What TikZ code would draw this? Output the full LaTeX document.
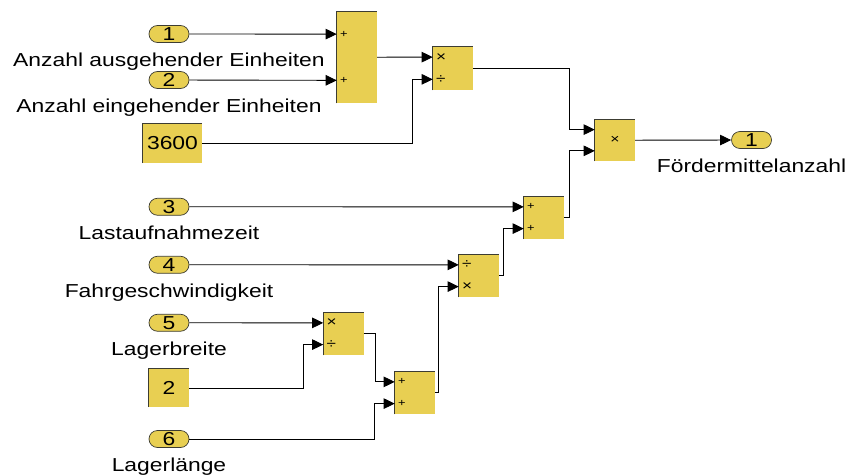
\documentclass[tikz,border=0pt]{standalone}
\usepackage{fontspec}
\setmainfont{Liberation Sans}[FakeStretch=1.22]
\usetikzlibrary{positioning, arrows.meta, calc, shapes.misc}

\definecolor{simyellow}{RGB}{232,207,82}
\definecolor{simedge}{RGB}{60,60,50}

\begin{document}
\begin{tikzpicture}[
    x=0.03cm, y=-0.03cm,
    font=\fontsize{16}{19}\selectfont,
    signal/.style={-{Triangle[length=9.5pt, width=9pt]}, line width=0.75pt},
    inport/.style={rounded rectangle, fill=simyellow, draw=simedge, line width=0.6pt,
        minimum width=1.2cm, minimum height=0.51cm, inner sep=0pt},
    block/.style={rectangle, fill=simyellow, minimum width=1.2cm, inner sep=0pt},
    shade_edge/.style={simedge, line width=0.8pt},
    opsign/.style={anchor=west, inner sep=0pt, font=\fontsize{12}{12}\selectfont},
    plussign/.style={opsign, font=\fontsize{9}{9}\selectfont},
    portname/.style={inner sep=2pt, text height=11.5pt, text depth=3.5pt}
]
\useasboundingbox (0,0) rectangle (846,475);

% Rechenblock: Name, x, Oberkante, Hoehe, Stil der Vorzeichen, oben, unten
\newcommand{\opBlock}[7]{
    \node[block, minimum height=#4*0.03cm, anchor=north] (#1) at (#2, #3) {};
    \draw[shade_edge] (#1.south west) -- (#1.north west) -- (#1.north east);
    \coordinate (#1-a) at ($(#1.north west)!0.25!(#1.south west)$);
    \coordinate (#1-b) at ($(#1.north west)!0.75!(#1.south west)$);
    \node[#5] (#1-sa) at ($(#1-a)+(3,0)$) {#6};
    \node[#5] (#1-sb) at ($(#1-b)+(3,0)$) {#7};
}

% ==========================================
% Bloecke
\opBlock{sum1}{357}{11}{92}{plussign}{+}{+}
\opBlock{prod1}{453}{46}{44}{opsign}{×}{÷}
\opBlock{sum2}{544}{196}{43}{plussign}{+}{+}
\opBlock{prod2}{479}{254}{43}{opsign}{÷}{×}
\opBlock{prod4}{343.5}{312}{43}{opsign}{×}{÷}
\opBlock{sum3}{415}{371}{43}{plussign}{+}{+}

% Endprodukt
\node[block, minimum height=42*0.03cm, anchor=north] (prodF) at (615, 119) {};
\draw[shade_edge] (prodF.south west) -- (prodF.north west) -- (prodF.north east);
\coordinate (prodF-a) at ($(prodF.north west)!0.25!(prodF.south west)$);
\coordinate (prodF-b) at ($(prodF.north west)!0.75!(prodF.south west)$);
\node[font=\fontsize{11}{11}\selectfont, inner sep=0pt] (prodF-s) at (prodF) {×};

% Konstanten
\node[block, minimum width=59*0.03cm, minimum height=39*0.03cm] (c3600) at (172.5, 143.5) {3600};
\draw[shade_edge] (c3600.south west) -- (c3600.north west) -- (c3600.north east);
\node[block, minimum height=38*0.03cm] (c2) at (169, 388) {2};
\draw[shade_edge] (c2.south west) -- (c2.north west) -- (c2.north east);

% ==========================================
% Ein- und Ausgaenge
\node[inport] (in1) at (169, 34) {1};
\node[portname, below=6.5pt of in1] (in1-name) {Anzahl ausgehender Einheiten};
\node[inport] (in2) at (169, 80) {2};
\node[portname, below=6.5pt of in2] (in2-name) {Anzahl eingehender Einheiten};
\node[inport] (in3) at (169, 206.75) {3};
\node[portname, below=6.5pt of in3] (in3-name) {Lastaufnahmezeit};
\node[inport] (in4) at (169, 264.75) {4};
\node[portname, below=6.5pt of in4] (in4-name) {Fahrgeschwindigkeit};
\node[inport] (in5) at (169, 322.75) {5};
\node[portname, below=6.5pt of in5] (in5-name) {Lagerbreite};
\node[inport] (in6) at (169, 439) {6};
\node[portname, below=6.5pt of in6] (in6-name) {Lagerlänge};
\node[inport] (out1) at (751.5, 140) {1};
\node[portname, below=6.5pt of out1] (out1-name) {Fördermittelanzahl};

% ==========================================
% Signale
\draw[signal] (in1) -- (sum1-a);
\draw[signal] (in2) -- (sum1-b);
\draw[signal] (sum1) -- (prod1-a);
\draw[signal] (c3600) -| ($(prod1-b)+(-20,0)$) -- (prod1-b);
\draw[signal] (prod1) -| ($(prodF-a)+(-25,0)$) -- (prodF-a);
\draw[signal] (sum2) -| ($(prodF-b)+(-25,0)$) -- (prodF-b);
\draw[signal] (prodF) -- (out1);
\draw[signal] (in3) -- (sum2-a);
\draw[signal] (in4) -- (prod2-a);
\draw[signal] (prod2) -| ($(sum2-b)+(-20,0)$) -- (sum2-b);
\draw[signal] (in5) -- (prod4-a);
\draw[signal] (c2) -| ($(prod4-b)+(-20,0)$) -- (prod4-b);
\draw[signal] (prod4) -| ($(sum3-a)+(-19,0)$) -- (sum3-a);
\draw[signal] (in6) -| ($(sum3-b)+(-20,0)$) -- (sum3-b);
\draw[signal] (sum3) -| ($(prod2-b)+(-20,0)$) -- (prod2-b);

\end{tikzpicture}
\end{document}
